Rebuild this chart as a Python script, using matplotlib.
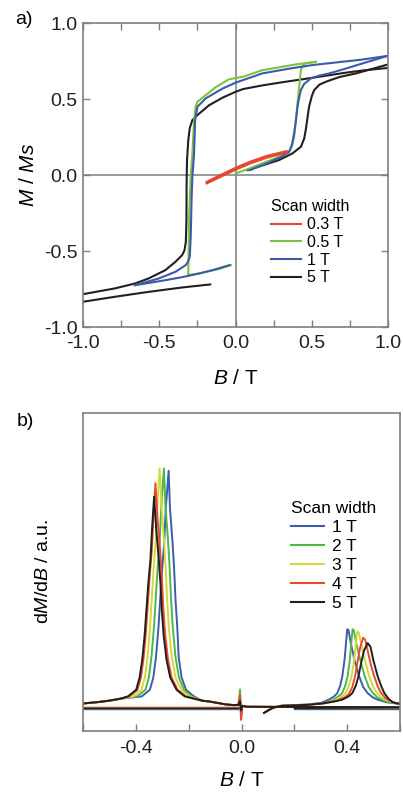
"""Two-panel figure: a) magnetisation loops for several scan widths, b) dM/dB curves."""

import matplotlib

matplotlib.use("Agg")
import matplotlib.pyplot as plt
import numpy as np
from matplotlib.lines import Line2D
from matplotlib.ticker import MultipleLocator

plt.rcParams["font.family"] = ["Liberation Sans", "DejaVu Sans"]
plt.rcParams["mathtext.fontset"] = "custom"
plt.rcParams["mathtext.rm"] = "Liberation Sans"
plt.rcParams["mathtext.it"] = "Liberation Sans:italic"

GRAY = "#7f7f7f"

# ---------------- panel a: M/Ms vs B ----------------
A_LABELS = ["0.3 T", "0.5 T", "1 T", "5 T"]
A_COLORS = ["#e8452c", "#7dc243", "#3b5ba9", "#231f20"]

RED_X = [-0.19, -0.10, 0.0, 0.10, 0.20, 0.335]
RED_UP_Y = [-0.045, 0.0, 0.048, 0.090, 0.125, 0.158]
RED_DOWN_Y = [-0.055, -0.012, 0.036, 0.078, 0.113, 0.150]

GREEN_DOWN_X = [0.526, 0.395, 0.175, 0.049, -0.044, -0.128, -0.25, -0.262, -0.272, -0.283, -0.294, -0.300, -0.305, -0.310]
GREEN_DOWN_Y = [0.745, 0.728, 0.690, 0.647, 0.630, 0.580, 0.482, 0.450, 0.362, 0.143, -0.01, -0.15, -0.30, -0.658]
GREEN_LOW_X = [-0.310, -0.239, -0.10, -0.03]
GREEN_LOW_Y = [-0.658, -0.647, -0.615, -0.592]
GREEN_UP_X = [0.0, 0.08, 0.175, 0.27, 0.351, 0.370, 0.384, 0.395, 0.406, 0.417, 0.428, 0.440, 0.460, 0.526]
GREEN_UP_Y = [0.011, 0.040, 0.077, 0.115, 0.153, 0.190, 0.252, 0.360, 0.472, 0.580, 0.690, 0.720, 0.735, 0.745]

BLUE_DOWN_X = [1.0, 0.83, 0.65, 0.504, 0.35, 0.175, 0.049, 0.0, -0.084, -0.195, -0.25, -0.265, -0.272, -0.283,
               -0.288, -0.294, -0.300, -0.312, -0.327, -0.394, -0.504, -0.66]
BLUE_DOWN_Y = [0.785, 0.760, 0.740, 0.724, 0.700, 0.669, 0.625, 0.608, 0.570, 0.505, 0.450, 0.362, 0.143, -0.01,
               -0.15, -0.406, -0.537, -0.570, -0.592, -0.636, -0.680, -0.724]
BLUE_LOW_X = [-0.66, -0.56, -0.46, -0.35, -0.239, -0.14, -0.04]
BLUE_LOW_Y = [-0.724, -0.708, -0.691, -0.671, -0.647, -0.622, -0.592]
BLUE_UP_X = [0.095, 0.20, 0.30, 0.351, 0.370, 0.384, 0.396, 0.406, 0.417, 0.428, 0.450, 0.493, 0.55, 0.614, 0.72,
             0.833, 1.0]
BLUE_UP_Y = [0.033, 0.075, 0.120, 0.153, 0.200, 0.274, 0.360, 0.449, 0.510, 0.559, 0.600, 0.636, 0.655, 0.669,
             0.700, 0.735, 0.785]

BLACK_DOWN_X = [1.0, 0.85, 0.73, 0.60, 0.45, 0.30, 0.175, 0.049, 0.0, -0.084, -0.173, -0.25, -0.283, -0.300,
                -0.310, -0.318, -0.321, -0.322, -0.326, -0.335, -0.350, -0.394, -0.46, -0.571, -0.66, -0.79, -1.0]
BLACK_DOWN_Y = [0.705, 0.690, 0.675, 0.655, 0.632, 0.610, 0.590, 0.566, 0.548, 0.510, 0.460, 0.395, 0.362, 0.310,
                0.230, 0.100, -0.05, -0.30, -0.44, -0.495, -0.526, -0.570, -0.625, -0.680, -0.713, -0.745, -0.783]
BLACK_LOW_X = [-1.0, -0.79, -0.571, -0.35, -0.166]
BLACK_LOW_Y = [-0.833, -0.800, -0.768, -0.739, -0.719]
BLACK_UP_X = [0.077, 0.18, 0.285, 0.373, 0.428, 0.450, 0.460, 0.472, 0.482, 0.500, 0.515, 0.55, 0.592, 0.68,
              0.79, 0.90, 1.0]
BLACK_UP_Y = [0.033, 0.065, 0.099, 0.143, 0.186, 0.240, 0.296, 0.380, 0.450, 0.520, 0.559, 0.595, 0.614, 0.645,
              0.669, 0.700, 0.728]

# ---------------- panel b: dM/dB vs B ----------------
B_LABELS = ["1 T", "2 T", "3 T", "4 T", "5 T"]
B_COLORS = ["#3a5dad", "#4db848", "#d4d93a", "#ea4a2a", "#231f20"]

TAIL_LEFT_X = [-0.60, -0.55, -0.50, -0.46]
TAIL_LEFT_Y = [0.010, 0.015, 0.022, 0.030]
TAIL_RIGHT_X = [-0.15, -0.12, -0.09, -0.06, -0.03, -0.012]
TAIL_RIGHT_Y = [0.022, 0.018, 0.012, 0.006, 0.003, 0.004]
SPIKE_X = [-0.006, -0.002, 0.003, 0.02, 0.2, 0.6]
SPIKE_UP = [0.030, 0.070, 0.040, 0.045, 0.020]
SPIKE_DOWN = [-0.030, -0.050, -0.030, -0.060, -0.020]

# left (switching) peak, one list per scan width
PEAK_L_X = [
    [-0.378, -0.347, -0.334, -0.324, -0.315, -0.308, -0.301, -0.293, -0.287, -0.276,
     -0.271, -0.261, -0.255, -0.250, -0.243, -0.238, -0.227, -0.210, -0.180],
    [-0.395, -0.364, -0.351, -0.341, -0.332, -0.325, -0.318, -0.310, -0.304, -0.294,
     -0.288, -0.278, -0.272, -0.267, -0.260, -0.250, -0.237, -0.218, -0.188],
    [-0.410, -0.379, -0.366, -0.356, -0.347, -0.340, -0.333, -0.325, -0.319, -0.310,
     -0.303, -0.293, -0.287, -0.282, -0.275, -0.264, -0.250, -0.228, -0.198],
    [-0.425, -0.394, -0.381, -0.371, -0.362, -0.355, -0.348, -0.340, -0.334, -0.326,
     -0.318, -0.308, -0.302, -0.297, -0.290, -0.279, -0.265, -0.242, -0.211],
    [-0.430, -0.399, -0.386, -0.376, -0.367, -0.360, -0.353, -0.345, -0.339, -0.331,
     -0.323, -0.313, -0.307, -0.302, -0.295, -0.284, -0.270, -0.246, -0.215],
]
PEAK_L_Y = [
    [0.040, 0.068, 0.120, 0.207, 0.326, 0.451, 0.577, 0.691, 0.840, 1.000,
     0.840, 0.691, 0.577, 0.451, 0.326, 0.207, 0.120, 0.068, 0.040],
    [0.040, 0.068, 0.120, 0.208, 0.328, 0.455, 0.582, 0.698, 0.848, 1.010,
     0.848, 0.698, 0.582, 0.455, 0.328, 0.208, 0.120, 0.068, 0.040],
    [0.040, 0.068, 0.120, 0.208, 0.328, 0.455, 0.582, 0.698, 0.848, 1.010,
     0.848, 0.698, 0.582, 0.455, 0.328, 0.208, 0.120, 0.068, 0.040],
    [0.040, 0.068, 0.120, 0.202, 0.313, 0.431, 0.550, 0.657, 0.797, 0.947,
     0.797, 0.657, 0.550, 0.431, 0.313, 0.202, 0.120, 0.068, 0.040],
    [0.040, 0.068, 0.120, 0.196, 0.300, 0.410, 0.520, 0.620, 0.750, 0.890,
     0.750, 0.620, 0.520, 0.410, 0.300, 0.196, 0.120, 0.068, 0.040],
]

# right (return sweep) peak
START_X = [0.085, 0.10, 0.12]
START_Y = [-0.030, -0.020, -0.008]
FLAT_X = [-0.60, -0.01]
FLAT_LEVEL = [-0.012, -0.006, -0.009, -0.004, -0.008]
PEAK_R_X = [
    [0.15, 0.25, 0.30, 0.33, 0.350, 0.362, 0.373, 0.381, 0.390, 0.396, 0.400, 0.405, 0.413, 0.428, 0.445,
     0.460, 0.477, 0.495, 0.515, 0.55, 0.60],
    [0.15, 0.25, 0.31, 0.345, 0.367, 0.380, 0.392, 0.401, 0.410, 0.416, 0.420, 0.425, 0.434, 0.450, 0.466,
     0.481, 0.497, 0.514, 0.532, 0.565, 0.60],
    [0.15, 0.25, 0.31, 0.355, 0.380, 0.394, 0.406, 0.416, 0.425, 0.432, 0.438, 0.444, 0.453, 0.468, 0.483,
     0.498, 0.513, 0.530, 0.547, 0.575, 0.60],
    [0.15, 0.25, 0.31, 0.360, 0.390, 0.406, 0.419, 0.429, 0.439, 0.449, 0.460, 0.468, 0.477, 0.490, 0.502,
     0.516, 0.528, 0.545, 0.562, 0.585, 0.60],
    [0.15, 0.25, 0.304, 0.350, 0.381, 0.405, 0.419, 0.432, 0.442, 0.452, 0.463, 0.477, 0.488, 0.498, 0.515,
     0.528, 0.540, 0.556, 0.572, 0.590, 0.60],
]
PEAK_R_Y = [
    [0.0, 0.006, 0.012, 0.026, 0.040, 0.054, 0.085, 0.125, 0.200, 0.280, 0.326, 0.320, 0.267, 0.190, 0.125,
     0.080, 0.054, 0.037, 0.026, 0.015, 0.008],
    [0.0, 0.005, 0.011, 0.024, 0.040, 0.054, 0.085, 0.125, 0.200, 0.280, 0.326, 0.320, 0.265, 0.190, 0.125,
     0.080, 0.054, 0.036, 0.025, 0.014, 0.008],
    [0.0, 0.005, 0.010, 0.024, 0.040, 0.054, 0.085, 0.125, 0.190, 0.260, 0.316, 0.310, 0.260, 0.190, 0.125,
     0.080, 0.054, 0.035, 0.024, 0.013, 0.008],
    [0.0, 0.004, 0.010, 0.022, 0.036, 0.050, 0.080, 0.125, 0.190, 0.250, 0.290, 0.280, 0.235, 0.170, 0.125,
     0.080, 0.054, 0.032, 0.020, 0.011, 0.008],
    [0.0, 0.004, 0.010, 0.018, 0.026, 0.040, 0.054, 0.085, 0.125, 0.180, 0.235, 0.267, 0.250, 0.196, 0.125,
     0.085, 0.054, 0.030, 0.015, 0.010, 0.008],
]


def style_axes(ax):
    for spine in ax.spines.values():
        spine.set_color(GRAY)
        spine.set_linewidth(1.2)
    ax.tick_params(which="both", direction="in", color=GRAY, width=1.0, length=5,
                   labelsize=14, labelcolor="#231f20")


def plot_loops(ax):
    lw = 1.5
    ax.axhline(0, color=GRAY, lw=1.1, zorder=0)
    ax.axvline(0, color=GRAY, lw=1.1, zorder=0)
    red, green, blue, black = A_COLORS
    for xs, ys in [(BLACK_DOWN_X, BLACK_DOWN_Y), (BLACK_LOW_X, BLACK_LOW_Y), (BLACK_UP_X, BLACK_UP_Y)]:
        ax.plot(xs, ys, color=black, lw=lw)
    for xs, ys in [(GREEN_DOWN_X, GREEN_DOWN_Y), (GREEN_LOW_X, GREEN_LOW_Y), (GREEN_UP_X, GREEN_UP_Y)]:
        ax.plot(xs, ys, color=green, lw=lw)
    for xs, ys in [(BLUE_DOWN_X, BLUE_DOWN_Y), (BLUE_LOW_X, BLUE_LOW_Y), (BLUE_UP_X, BLUE_UP_Y)]:
        ax.plot(xs, ys, color=blue, lw=lw)
    ax.plot(RED_X, RED_UP_Y, color=red, lw=lw)
    ax.plot(RED_X, RED_DOWN_Y, color=red, lw=lw)

    ax.set_xlim(-1, 1)
    ax.set_ylim(-1, 1)
    ax.set_xticks([-1, -0.5, 0, 0.5, 1])
    ax.set_xticklabels(["-1.0", "-0.5", "0.0", "0.5", "1.0"])
    ax.xaxis.set_minor_locator(MultipleLocator(0.25))
    ax.set_yticks([-1, -0.5, 0, 0.5, 1])
    ax.set_yticklabels(["-1.0", "-0.5", "0.0", "0.5", "1.0"])
    style_axes(ax)
    ax.tick_params(top=True, right=True, which="both")
    ax.tick_params(axis="x", pad=6)
    ax.tick_params(axis="y", pad=4)
    ax.set_xlabel("$B$ / T", fontsize=15, labelpad=12)
    ax.set_ylabel("$M$ / $Ms$", fontsize=15, labelpad=4)

    handles = [Line2D([], [], color=c, lw=1.5) for c in A_COLORS]
    ax.legend(handles, A_LABELS, title="Scan width", loc="upper left",
              bbox_to_anchor=(0.615, 0.42), frameon=False, fontsize=11.5,
              title_fontsize=11.5, handlelength=1.9, handletextpad=0.4,
              labelspacing=0.17, borderpad=0, borderaxespad=0, alignment="left")


def plot_derivative(ax):
    lw = 1.4
    # flat return-sweep baselines first, so the peaked curves sit on top
    for i, color in enumerate(B_COLORS):
        ax.plot(FLAT_X + [np.nan, 0.2, 0.6], [FLAT_LEVEL[i]] * 2 + [np.nan] + [FLAT_LEVEL[i]] * 2,
                color=color, lw=1.0)
    for i, color in enumerate(B_COLORS):
        xs = TAIL_LEFT_X + PEAK_L_X[i] + TAIL_RIGHT_X + SPIKE_X
        ys = TAIL_LEFT_Y + PEAK_L_Y[i] + TAIL_RIGHT_Y + [SPIKE_UP[i], SPIKE_DOWN[i], 0.0, -0.004, -0.005, -0.006]
        ax.plot(xs, ys, color=color, lw=lw)
        ax.plot(START_X + PEAK_R_X[i], START_Y + PEAK_R_Y[i], color=color, lw=lw)

    ax.set_xlim(-0.6, 0.6)
    ax.set_ylim(-0.106, 1.247)
    ax.set_xticks([-0.4, 0.0, 0.4])
    ax.set_xticklabels(["-0.4", "0.0", "0.4"])
    ax.xaxis.set_minor_locator(MultipleLocator(0.2))
    ax.set_yticks([])
    style_axes(ax)
    ax.tick_params(axis="x", pad=7)
    ax.set_xlabel("$B$ / T", fontsize=15, labelpad=10)
    ax.set_ylabel("d$M$/d$B$ / a.u.", fontsize=14, labelpad=22)

    handles = [Line2D([], [], color=c, lw=1.5) for c in B_COLORS]
    ax.legend(handles, B_LABELS, title="Scan width", loc="upper left",
              bbox_to_anchor=(0.655, 0.722), frameon=False, fontsize=12.5,
              title_fontsize=12.5, handlelength=1.9, handletextpad=0.5,
              labelspacing=0.22, borderpad=0, borderaxespad=0, alignment="left")


def main() -> None:
    fig = plt.figure(figsize=(4.03, 7.96), dpi=100)
    ax_a = fig.add_axes([0.206, 0.589, 0.757, 0.382])
    ax_b = fig.add_axes([0.206, 0.082, 0.787, 0.3995])
    plot_loops(ax_a)
    plot_derivative(ax_b)
    fig.text(0.037, 0.975, "a)", fontsize=14, va="center", ha="left")
    fig.text(0.042, 0.47, "b)", fontsize=14, va="center", ha="left")
    fig.savefig("out.png", dpi=100)
    plt.close(fig)


if __name__ == "__main__":
    main()
